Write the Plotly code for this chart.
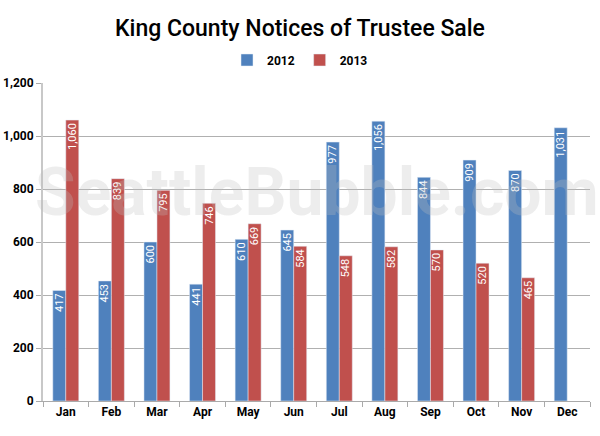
import plotly.graph_objects as go

months = ["Jan", "Feb", "Mar", "Apr", "May", "Jun", "Jul", "Aug", "Sep", "Oct", "Nov", "Dec"]
s2012 = [417, 453, 600, 441, 610, 645, 977, 1056, 844, 909, 870, 1031]
s2013 = [1060, 839, 795, 746, 669, 584, 548, 582, 570, 520, 465, None]
yticks = [0, 200, 400, 600, 800, 1000, 1200]
ytick_text = ["0", "200", "400", "600", "800", "1,000", "1,200"]

FONT = "Roboto, Liberation Sans, sans-serif"

def fmt(v):
    return "" if v is None else f"{v:,}"

fig = go.Figure()
fig.add_trace(go.Bar(
    name="2012", x=months, y=s2012, marker_color="#4f81bd",
    text=[fmt(v) for v in s2012], textposition="inside", insidetextanchor="end",
    textangle=-90, textfont=dict(color="white", size=11, family=FONT),
))
fig.add_trace(go.Bar(
    name="2013", x=months, y=s2013, marker_color="#c0504d",
    text=[fmt(v) for v in s2013], textposition="inside", insidetextanchor="end",
    textangle=-90, textfont=dict(color="white", size=11, family=FONT),
))

fig.update_layout(
    width=600, height=436,
    paper_bgcolor="white", plot_bgcolor="white",
    margin=dict(l=43, r=10, t=83, b=35, autoexpand=False),
    barmode="group", bargap=0.43, bargroupgap=0,
    uniformtext=dict(minsize=11, mode="show"),
    title=dict(text="King County Notices of Trustee Sale", x=0.5, xanchor="center",
               xref="container", yref="container", y=1 - 28 / 436, yanchor="middle",
               font=dict(family=FONT, size=23, color="black", weight=500)),
    legend=dict(orientation="h", x=0.5, xanchor="center", xref="container", yref="container",
                y=1 - 60 / 436, yanchor="middle",
                font=dict(family=FONT, size=12, color="black", weight="bold"),
                itemwidth=30, traceorder="normal"),
    font=dict(family=FONT, color="black"),
    xaxis=dict(showline=True, linecolor="#aaaaaa", ticks="outside", tickcolor="#aaaaaa",
               ticklen=5, tickson="boundaries", automargin=False,
               tickfont=dict(family=FONT, size=12, color="black", weight="bold")),
    yaxis=dict(range=[0, 1200], tickvals=yticks, ticktext=ytick_text, automargin=False,
               showgrid=True, gridcolor="#b0b0b0", showline=True, linecolor="#c8c8c8",
               linewidth=2, ticks="outside", tickcolor="#aaaaaa", ticklen=5,
               zeroline=False, tickfont=dict(family=FONT, size=12, color="black", weight="bold")),
    annotations=[dict(text="SeattleBubble.com", x=0.5, y=0.657, xref="paper", yref="paper",
                      xanchor="center", yanchor="middle",
                      showarrow=False, font=dict(family=FONT, size=66, color="rgba(190,190,190,0.28)", weight="bold"))],
)

fig.write_html("out.html", post_script="document.body.style.margin='0';",
               config={"displayModeBar": False})
